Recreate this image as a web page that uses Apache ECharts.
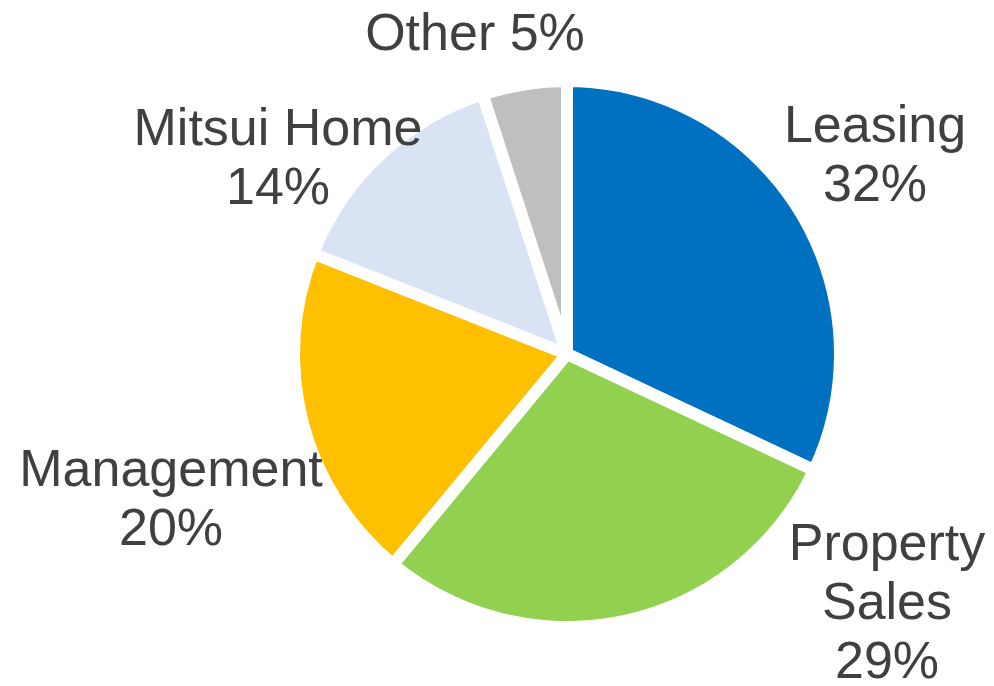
<!DOCTYPE html>
<html>

<head>
  <meta charset="utf-8">
  <title>Segment share</title>
  <script src="https://cdn.jsdelivr.net/npm/echarts@6/dist/echarts.min.js"></script>
  <style>
    html, body { margin: 0; padding: 0; background: #fff; }
  </style>
</head>

<body>
  <div id="main" style="width: 994px;height:686px;"></div>
  <script type="text/javascript">
    // data
    var categories = ['Leasing', 'Property Sales', 'Management', 'Mitsui Home', 'Other']
    var shares = [32, 29, 20, 14, 5]
    // how each label is written (line breaks as in the picture)
    var labelNames = ['Leasing\n', 'Property\nSales\n', 'Management\n', 'Mitsui Home\n', 'Other ']
    var colors = ['#0070C0', '#92D050', '#FFC000', '#DAE3F3', '#BFBFBF']
    // label block centres in px
    var labelCenters = [[875, 157], [887, 605], [171, 501], [278, 160], [475, 36]]

    var myChart = echarts.init(document.getElementById('main'));

    var pieData = []
    categories.forEach(function (name, i) {
      pieData.push({
        name: name,
        value: shares[i],
        itemStyle: { color: colors[i] }
      })
    })

    myChart.setOption({
      backgroundColor: '#ffffff',
      animation: false,
      series: [{
        type: 'pie',
        center: [567, 354],
        radius: 273,
        startAngle: 90,
        clockwise: true,
        avoidLabelOverlap: false,
        itemStyle: {
          borderColor: '#ffffff',
          borderWidth: 12
        },
        label: {
          show: true,
          position: 'outside',
          color: '#404040',
          fontFamily: 'Liberation Sans, Arial, sans-serif',
          fontSize: 52,
          lineHeight: 59,
          align: 'center',
          overflow: 'none',
          edgeDistance: 0,
          formatter: function (params) {
            return labelNames[params.dataIndex] + params.value + '%'
          }
        },
        labelLine: { show: false },
        labelLayout: function (params) {
          var c = labelCenters[params.dataIndex]
          return {
            x: c[0],
            y: c[1],
            align: 'center',
            verticalAlign: 'middle'
          }
        },
        data: pieData
      }]
    })
  </script>
</body>

</html>
